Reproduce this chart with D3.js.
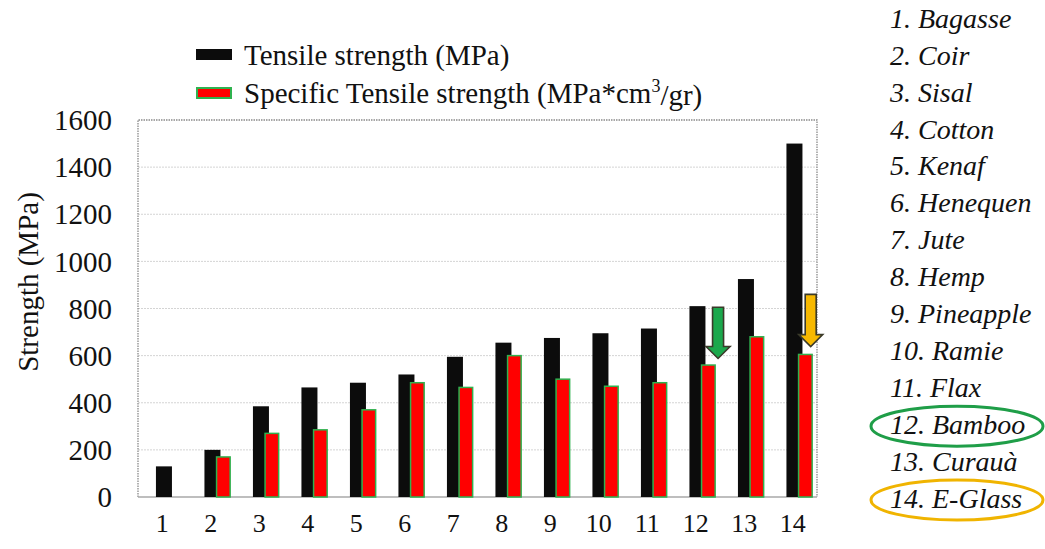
<!DOCTYPE html>
<html><head><meta charset="utf-8">
<script src="https://cdn.jsdelivr.net/npm/d3@7"></script>
<style>body{margin:0;background:#fff;} svg{display:block;} text{font-family:'Liberation Serif','Times New Roman',serif;}</style>
</head><body><svg id="c" width="1045" height="549"></svg>
<script>
const categories = ["1","2","3","4","5","6","7","8","9","10","11","12","13","14"];
const fibres = ["Bagasse","Coir","Sisal","Cotton","Kenaf","Henequen","Jute","Hemp","Pineapple","Ramie","Flax","Bamboo","Curauà","E-Glass"];
const tensile = [130,200,385,465,485,520,595,655,675,695,715,810,925,1500];
const specific = [null,170,270,285,370,485,465,600,500,470,485,560,680,605];
const yTicks = [0,200,400,600,800,1000,1200,1400,1600];
const arrows = [{cat:"12", from:805, to:588, color:"#1ba84c"},{cat:"14", from:860, to:638, color:"#f7b900"}];
const highlights = [{item:12, color:"#1f9e48"},{item:14, color:"#f0b400"}];

const svg = d3.select("#c");
const x = d3.scaleBand().domain(categories).range([138,817]).padding(0);
const y = d3.scaleLinear().domain([0,1600]).range([497,120]);
const bw = x.bandwidth();

svg.append("g").selectAll("line").data(yTicks.filter(d=>d>0 && d<1600)).join("line")
  .attr("x1",138).attr("x2",817).attr("y1",d=>y(d)).attr("y2",d=>y(d))
  .attr("stroke","#d4d4d4").attr("stroke-width",1).attr("stroke-dasharray","2,1");

svg.append("path").attr("d",`M138,497V120H817V497`).attr("fill","none")
  .attr("stroke","#8a8a8a").attr("stroke-width",1.3).attr("stroke-dasharray","1.5,1");
svg.append("line").attr("x1",138).attr("x2",817).attr("y1",y(0)).attr("y2",y(0))
  .attr("stroke","#a8a8a8").attr("stroke-width",1.5);

svg.append("g").selectAll("rect").data(categories.map((c,i)=>({c,v:tensile[i]}))).join("rect")
  .attr("x",d=>x(d.c)+bw*0.37).attr("width",bw*0.33)
  .attr("y",d=>y(d.v)).attr("height",d=>y(0)-y(d.v)).attr("fill","#0c0c0c");
svg.append("g").selectAll("rect").data(categories.map((c,i)=>({c,v:specific[i]})).filter(d=>d.v!=null)).join("rect")
  .attr("x",d=>x(d.c)+bw*0.62).attr("width",bw*0.28)
  .attr("y",d=>y(d.v)).attr("height",d=>y(0)-y(d.v)).attr("fill","#ff0000")
  .attr("stroke","#2fb24f").attr("stroke-width",1.5);

const offs = {"12":0.96,"14":0.87};
arrows.forEach(a=>{
  const cx = x(a.cat)+bw*offs[a.cat];
  const y0 = y(a.from), y1 = y(a.to), hl = 12, sw = 5.5, hw = 12;
  svg.append("path").attr("d",`M${cx-sw},${y0}H${cx+sw}V${y1-hl}H${cx+hw}L${cx},${y1}L${cx-hw},${y1-hl}H${cx-sw}Z`)
    .attr("fill",a.color).attr("stroke","#3a3a2a").attr("stroke-width",1.6).attr("stroke-linejoin","miter");
});

const F = "Liberation Serif, Times New Roman, serif";
svg.append("g").selectAll("text").data(yTicks).join("text")
  .attr("x",112).attr("y",d=>y(d)).attr("dy","0.35em").attr("text-anchor","end")
  .attr("font-family",F).attr("font-size",29).attr("fill","#111").text(d=>d);
svg.append("g").selectAll("text").data(categories).join("text")
  .attr("x",d=>x(d)+bw/2).attr("y",523).attr("dy","0.35em").attr("text-anchor","middle")
  .attr("font-family",F).attr("font-size",26).attr("fill","#111").text(d=>d);
svg.append("text").attr("transform","translate(28,282) rotate(-90)").attr("text-anchor","middle")
  .attr("dy","0.35em").attr("font-family",F).attr("font-size",29).attr("fill","#111").text("Strength (MPa)");

const lg = svg.append("g");
lg.append("rect").attr("x",196).attr("y",49).attr("width",36).attr("height",11).attr("fill","#0c0c0c");
lg.append("text").attr("x",244).attr("y",55).attr("dy","0.35em").attr("font-family",F).attr("font-size",29).attr("fill","#111").text("Tensile strength (MPa)");
lg.append("rect").attr("x",197).attr("y",88).attr("width",34).attr("height",10).attr("fill","#ff0000").attr("stroke","#2fb24f").attr("stroke-width",2);
const t2 = lg.append("text").attr("x",244).attr("y",93).attr("dy","0.35em").attr("font-family",F).attr("font-size",29).attr("fill","#111");
t2.append("tspan").text("Specific Tensile strength (MPa*cm");
t2.append("tspan").attr("font-size",18).attr("dy","-0.6em").text("3");
t2.append("tspan").attr("dy","0.45em").text("/gr)");

const listY = d3.scaleLinear().domain([1,14]).range([18,498]);
svg.append("g").selectAll("text").data(fibres).join("text")
  .attr("x",890).attr("y",(d,i)=>listY(i+1)).attr("dy","0.35em")
  .attr("font-family",F).attr("font-size",28).attr("font-style","italic").attr("fill","#111")
  .text((d,i)=>`${i+1}. ${d}`);
highlights.forEach(h=>{
  svg.append("ellipse").attr("cx",957).attr("cy",listY(h.item)+2).attr("rx",86).attr("ry",20)
    .attr("fill","none").attr("stroke",h.color).attr("stroke-width",3);
});
</script></body></html>
